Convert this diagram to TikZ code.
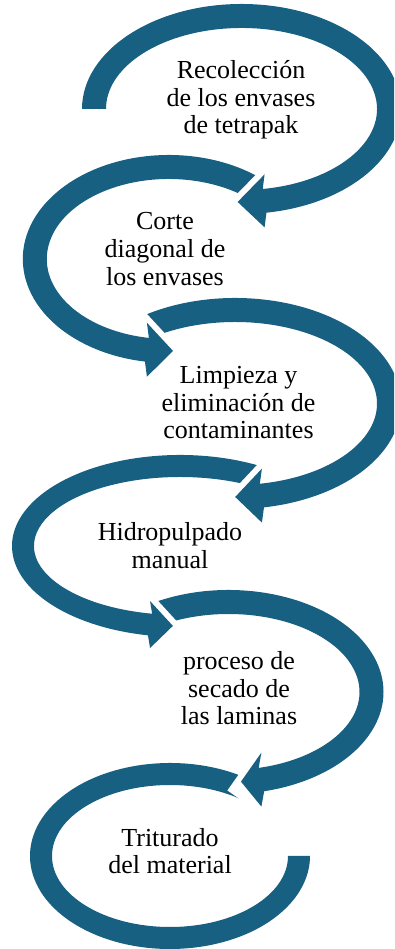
\documentclass[tikz,border=0pt]{standalone}
\usepackage{fontspec}
\setmainfont{Liberation Serif}
\definecolor{ringblue}{RGB}{23,96,130}
\tikzset{
  ringfill/.style={fill=ringblue},
  gapfill/.style={fill=white},
  lbl/.style={anchor=base, inner sep=0pt, font=\fontsize{26}{28}\selectfont, text=black}
}
\newcommand\raHw{12}
% #1 cx, #2 cy, #3 rx, #4 ry, #5 start angle, #6 end angle, #7 tip angle, #8 half head width, #9 sense (+1 cw, -1 ccw)
\newcommand\ringarrow[9]{%
  \pgfmathsetmacro\raRxo{#3+\raHw}%
  \pgfmathsetmacro\raRyo{#4+\raHw}%
  \pgfmathsetmacro\raRxi{#3-\raHw}%
  \pgfmathsetmacro\raRyi{#4-\raHw}%
  \pgfmathsetmacro\raSox{#1+\raRxo*cos(#5)}%
  \pgfmathsetmacro\raSoy{#2+\raRyo*sin(#5)}%
  \pgfmathsetmacro\raEix{#1+\raRxi*cos(#6)}%
  \pgfmathsetmacro\raEiy{#2+\raRyi*sin(#6)}%
  \pgfmathsetmacro\raPx{#1+#3*cos(#6)}%
  \pgfmathsetmacro\raPy{#2+#4*sin(#6)}%
  \pgfmathsetmacro\raWo{\raPy-#8}%
  \pgfmathsetmacro\raWi{\raPy+#8}%
  \pgfmathsetmacro\raTx{#1+#3*cos(#7)}%
  \pgfmathsetmacro\raTy{#2+#4*sin(#7)}%
  \pgfmathsetmacro\raUx{\raTx-\raPx}%
  \pgfmathsetmacro\raUy{\raTy-\raWi}%
  \pgfmathsetmacro\raUl{sqrt((\raUx)*(\raUx)+(\raUy)*(\raUy))}%
  \pgfmathsetmacro\raUx{(\raUx)/(\raUl)}%
  \pgfmathsetmacro\raUy{(\raUy)/(\raUl)}%
  \pgfmathsetmacro\raNx{-(#9)*(\raUy)}%
  \pgfmathsetmacro\raNy{(#9)*(\raUx)}%
  \pgfmathsetmacro\raAx{\raPx-6*(\raNx)-15*(\raUx)}%
  \pgfmathsetmacro\raAy{\raWi-6*(\raNy)-15*(\raUy)}%
  \pgfmathsetmacro\raBx{\raTx-6*(\raNx)+15*(\raUx)}%
  \pgfmathsetmacro\raBy{\raTy-6*(\raNy)+15*(\raUy)}%
  \pgfmathsetmacro\raCx{\raBx+32*(\raNx)}%
  \pgfmathsetmacro\raCy{\raBy+32*(\raNy)}%
  \pgfmathsetmacro\raDx{\raAx+32*(\raNx)}%
  \pgfmathsetmacro\raDy{\raAy+32*(\raNy)}%
  \fill[gapfill] (\raAx,\raAy) -- (\raBx,\raBy) -- (\raCx,\raCy) -- (\raDx,\raDy) -- cycle;
  \fill[ringfill] (\raSox,\raSoy)
    arc[start angle=#5, end angle=#6, x radius=\raRxo pt, y radius=\raRyo pt]
    -- (\raPx,\raWo) -- (\raTx,\raTy) -- (\raPx,\raWi) -- (\raEix,\raEiy)
    arc[start angle=#6, end angle=#5, x radius=\raRxi pt, y radius=\raRyi pt]
    -- cycle;
}
\begin{document}
\begin{tikzpicture}[x=1pt, y=1pt]
\useasboundingbox (0,0) rectangle (394,949);
\clip (0,0) rectangle (394,949);
% arc 6 (last, no arrowhead)
\pgfmathsetmacro\rsSx{170+140*cos(54)}
\pgfmathsetmacro\rsSy{93+93*sin(54)}
\fill[ringfill] (\rsSx,\rsSy) arc[start angle=54, end angle=360, x radius=140pt, y radius=93pt]
  -- (288,93) arc[start angle=360, end angle=54, x radius=118pt, y radius=71pt] -- cycle;
% arc 5
\ringarrow{228.5}{257}{143}{90}{122}{-76.7}{-85}{27}{1}
% arc 4
\renewcommand\raHw{11}
\ringarrow{180}{403}{157}{80}{62}{259}{267.4}{23.5}{-1}
\renewcommand\raHw{12}
% arc 3
\ringarrow{235.2}{545.5}{153.8}{93.5}{124}{-80}{-90}{27}{1}
% arc 2
\ringarrow{168.8}{690}{134}{92}{51}{260.6}{271.8}{27}{-1}
% arc 1
\ringarrow{241.5}{840}{147.5}{93}{180}{-81}{-91.5}{26.5}{1}
% texts
\node[lbl] (t1a) at (241,870) {Recolección};
\node[lbl] (t1b) at (241,842) {de los envases};
\node[lbl] (t1c) at (241,815) {de tetrapak};
\node[lbl] (t2a) at (165,719) {Corte};
\node[lbl] (t2b) at (165,691) {diagonal de};
\node[lbl] (t2c) at (165,663) {los envases};
\node[lbl] (t3a) at (238.5,565.7) {Limpieza y};
\node[lbl] (t3b) at (238.5,537.5) {eliminación de};
\node[lbl] (t3c) at (238.5,510.7) {contaminantes};
\node[lbl] (t4a) at (170,408.3) {Hidropulpado};
\node[lbl] (t4b) at (170,380.7) {manual};
\node[lbl] (t5a) at (239,279.7) {proceso de};
\node[lbl] (t5b) at (239,251.7) {secado de};
\node[lbl] (t5c) at (239,224) {las laminas};
\node[lbl] (t6a) at (170,102.3) {Triturado};
\node[lbl] (t6b) at (170,75.7) {del material};
\end{tikzpicture}
\end{document}
